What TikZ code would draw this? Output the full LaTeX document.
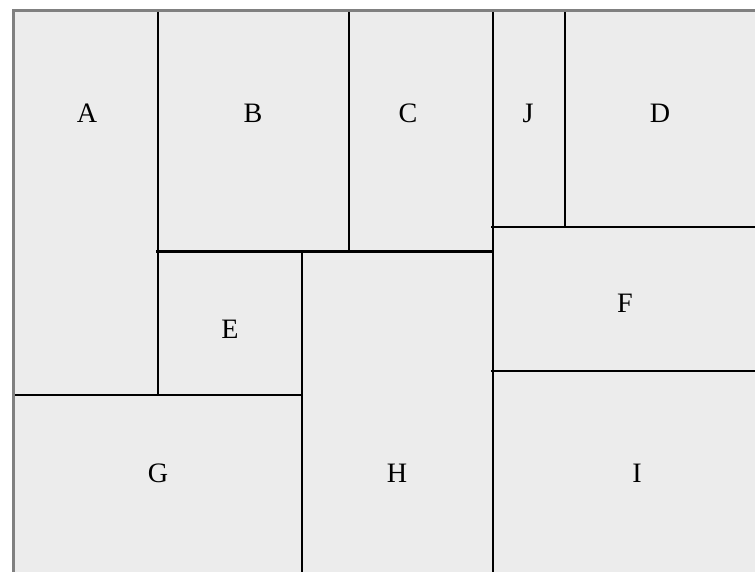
\documentclass[tikz,border=0pt]{standalone}
\usepackage{fontspec}
\setmainfont{Liberation Serif}
\usepackage{tikz}
\usetikzlibrary{positioning}
\definecolor{paper}{RGB}{236,236,236}
\definecolor{frame}{RGB}{128,128,128}

\begin{document}
\begin{tikzpicture}[
  cut/.style={black, line width=1.2pt},
  rim/.style={frame, line width=2pt},
  lbl/.style={font=\fontsize{16}{18}\selectfont, inner sep=0pt}
]

%% Sheet and scanned rim
\fill[paper] (0,0) rectangle (15.1,11.44);
\useasboundingbox (0,0) rectangle (15.1,11.44);
\fill[white] (0,0) rectangle (0.24,11.44);
\fill[white] (0,11.26) rectangle (15.1,11.44);
\draw[rim] (0.27,0) -- (0.27,11.23) -- (15.1,11.23);

%% Cuts
\draw[cut] (3.16,11.20) -- (3.16,3.54);
\draw[cut] (6.98,11.20) -- (6.98,6.41);
\draw[cut] (9.86,11.20) -- (9.86,0);
\draw[cut] (11.30,11.20) -- (11.30,6.90);
\draw[cut] (3.12,6.41) -- (9.86,6.41);
\draw[cut] (9.82,6.90) -- (15.1,6.90);
\draw[cut] (9.82,4.02) -- (15.1,4.02);
\draw[cut] (6.04,6.41) -- (6.04,0);
\draw[cut] (0.30,3.54) -- (6.04,3.54);

%% Pieces
\node[lbl] (A) at (1.74,9.18) {A};
\node[lbl] (B) at (5.06,9.18) {B};
\node[lbl] (C) at (8.16,9.18) {C};
\node[lbl] (J) at (10.56,9.18) {J};
\node[lbl] (D) at (13.20,9.18) {D};
\node[lbl] (E) at (4.60,4.86) {E};
\node[lbl] (F) at (12.50,5.38) {F};
\node[lbl] (G) at (3.16,1.98) {G};
\node[lbl] (H) at (7.94,1.98) {H};
\node[lbl] (I) at (12.74,1.98) {I};

\end{tikzpicture}
\end{document}
